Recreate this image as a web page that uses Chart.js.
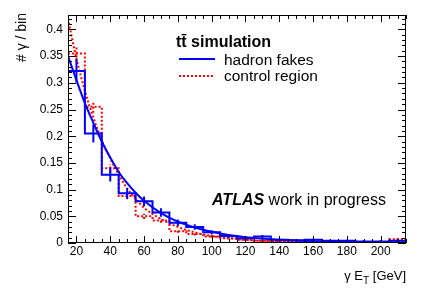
<!DOCTYPE html>
<html><head><meta charset="utf-8">
<script src="https://cdn.jsdelivr.net/npm/chart.js@4/dist/chart.umd.min.js"></script>
<style>html,body{margin:0;padding:0;background:#fff}#wrap{width:427px;height:290px}</style>
</head><body><div id="wrap"><canvas id="c" width="427" height="290"></canvas></div>
<script>
// ---- data ----
const binEdges = [15,25,35,45,55,65,75,85,95,105,115,125,135,145,155,165,175,185,195,205,215];
const hadronFakes    = [0.322,0.205,0.128,0.093,0.078,0.057,0.038,0.030,0.020,0.013,0.009,0.012,0.006,0.005,0.006,0.004,0.004,0.003,0.003,0.004];
const hadronFakesErr = [0.022,0.017,0.013,0.010,0.009,0.008,0.006,0.005,0.004,0.003,0.003,0.003,0.002,0.002,0.002,0.002,0.002,0.002,0.002,0.002];
const controlRegion    = [0.355,0.255,0.140,0.088,0.050,0.042,0.022,0.017,0.012,0.009,0.006,0.004,0.003,0.002,0.002,0.002,0.002,0.002,0.002,0.007];
const controlRegionErr = [0.015,0.011,0.008,0.006,0.005,0.004,0.003,0.003,0.002,0.002,0.002,0.001,0.001,0.001,0.001,0.001,0.001,0.001,0.001,0.002];
const fitX       = [15,20,25,30,35,40,45,50,55,60,70,80,90,100,110,120,140,160,180,215];
const hadronFit  = [0.350,0.305,0.262,0.225,0.190,0.160,0.133,0.112,0.094,0.079,0.056,0.040,0.029,0.021,0.015,0.011,0.006,0.0035,0.002,0.001];
const controlFit = [0.420,0.345,0.285,0.235,0.192,0.158,0.128,0.102,0.083,0.066,0.045,0.030,0.020,0.013,0.009,0.006,0.003,0.0015,0.0008,0.0003];
const xTicks = [20,40,60,80,100,120,140,160,180,200];
const yTicks = [0,0.05,0.1,0.15,0.2,0.25,0.3,0.35,0.4];

// ---- helpers ----
function steps(edges, vals){
  const pts=[];
  vals.forEach((v,i)=>{pts.push({x:edges[i],y:v});pts.push({x:edges[i+1],y:v});});
  return pts;
}
function errs(edges, vals, e){
  const pts=[];
  vals.forEach((v,i)=>{const c=(edges[i]+edges[i+1])/2;
    pts.push({x:c,y:v-e[i]});pts.push({x:c,y:v+e[i]});pts.push({x:c,y:null});});
  return pts;
}
function curve(xs, ys){ return xs.map((x,i)=>({x:x,y:ys[i]})); }

const BLUE='#0000ff', RED='#ff0000';
const FONT='"Liberation Sans", Arial, Helvetica, sans-serif';

const decor = {
  id:'decor',
  afterDatasetsDraw(chart){
    const {ctx, chartArea:a, scales:{x,y}} = chart;
    ctx.save();
    ctx.strokeStyle='#000'; ctx.lineWidth=1;
    ctx.beginPath();
    for(let v=15; v<=215; v+=5){
      const px=Math.round(x.getPixelForValue(v))+0.5;
      const len=(v%20===0)?7:4;
      ctx.moveTo(px,a.bottom); ctx.lineTo(px,a.bottom-len);
      ctx.moveTo(px,a.top); ctx.lineTo(px,a.top+len);
    }
    for(let i=0;i<=42;i++){
      const py=Math.round(y.getPixelForValue(i/100))+0.5;
      const len=(i%5===0)?8:4;
      ctx.moveTo(a.left,py); ctx.lineTo(a.left+len,py);
      ctx.moveTo(a.right,py); ctx.lineTo(a.right-len,py);
    }
    ctx.stroke();
    ctx.strokeRect(a.left+0.5,a.top+0.5,a.right-a.left-1,a.bottom-a.top-1);

    // axis titles
    ctx.fillStyle='#000';
    ctx.font='14px '+FONT;
    ctx.save();
    ctx.translate(26,13); ctx.rotate(-Math.PI/2);
    ctx.textAlign='right'; ctx.textBaseline='alphabetic';
    ctx.fillText('# \u03b3 / bin',0,0);
    ctx.restore();

    ctx.font='13px '+FONT;
    const p1='\u03b3 E', p3=' [GeV]';
    const w1=ctx.measureText(p1).width, w3=ctx.measureText(p3).width;
    ctx.font='10px '+FONT;
    const w2=ctx.measureText('T').width;
    let sx=a.right-(w1+w2+w3);
    ctx.textAlign='left';
    ctx.font='13px '+FONT; ctx.fillText(p1,sx,280);
    ctx.font='10px '+FONT; ctx.fillText('T',sx+w1,284);
    ctx.font='13px '+FONT; ctx.fillText(p3,sx+w1+w2,280);

    // legend
    ctx.font='bold 16px '+FONT;
    ctx.fillText('tt\u0304 simulation',176,47);
    ctx.font='15.5px '+FONT;
    ctx.fillText('hadron fakes',224,65);
    ctx.fillText('control region',224,81);
    ctx.lineWidth=2;
    ctx.strokeStyle=BLUE; ctx.beginPath(); ctx.moveTo(179,59); ctx.lineTo(215,59); ctx.stroke();
    ctx.strokeStyle=RED; ctx.setLineDash([2,2]); ctx.beginPath(); ctx.moveTo(179,76); ctx.lineTo(215,76); ctx.stroke();
    ctx.setLineDash([]);

    // ATLAS label
    ctx.font='italic bold 16px '+FONT;
    ctx.fillText('ATLAS',212,205);
    const wa=ctx.measureText('ATLAS').width;
    ctx.font='16px '+FONT;
    ctx.fillText(' work in progress',212+wa,205);
    ctx.restore();
  }
};

new Chart(document.getElementById('c'),{
  type:'scatter',
  data:{datasets:[
    {data:steps(binEdges,hadronFakes),showLine:true,borderColor:BLUE,borderWidth:2,pointRadius:0,order:0},
    {data:errs(binEdges,hadronFakes,hadronFakesErr),showLine:true,spanGaps:false,borderColor:BLUE,borderWidth:2,pointRadius:0,order:0},
    {data:curve(fitX,hadronFit),showLine:true,borderColor:BLUE,borderWidth:2,pointRadius:0,cubicInterpolationMode:'monotone',order:0},
    {data:steps(binEdges,controlRegion),showLine:true,borderColor:RED,borderWidth:2,borderDash:[2,2],pointRadius:0,order:1},
    {data:errs(binEdges,controlRegion,controlRegionErr),showLine:true,spanGaps:false,borderColor:RED,borderWidth:2,borderDash:[2,2],pointRadius:0,order:1},
    {data:curve(fitX,controlFit),showLine:true,borderColor:RED,borderWidth:2,borderDash:[2,2],pointRadius:0,cubicInterpolationMode:'monotone',order:1}
  ]},
  options:{
    responsive:false, animation:false, devicePixelRatio:1,
    layout:{padding:{left:0,right:21,top:15,bottom:0}},
    plugins:{legend:{display:false},tooltip:{enabled:false}},
    scales:{
      x:{type:'linear',min:15,max:215,
        afterBuildTicks:s=>{s.ticks=xTicks.map(v=>({value:v}));},
        afterFit:s=>{s.height=47;},
        grid:{display:false,drawTicks:false},border:{display:false},
        ticks:{color:'#000',font:{family:FONT,size:12},padding:1,maxRotation:0,autoSkip:false,callback:v=>String(v)}},
      y:{type:'linear',min:0,max:0.427,
        afterBuildTicks:s=>{s.ticks=yTicks.map(v=>({value:v}));},
        afterFit:s=>{s.width=68;},
        grid:{display:false,drawTicks:false},border:{display:false},
        ticks:{color:'#000',font:{family:FONT,size:12},padding:5,autoSkip:false,callback:v=>String(+v.toFixed(2))}}
    }
  },
  plugins:[decor]
});
</script></body></html>
